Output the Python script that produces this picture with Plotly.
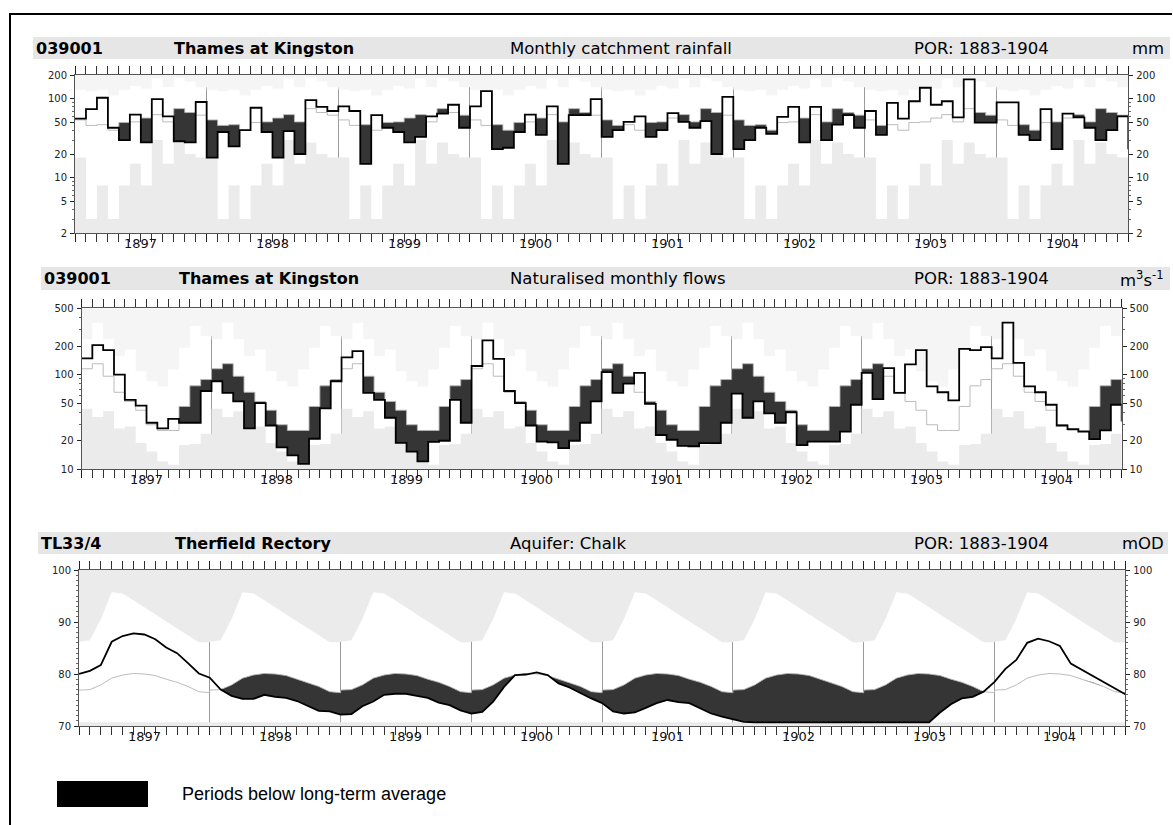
import math
import plotly.graph_objects as go

W, H = 1173, 825
years = [1897, 1898, 1899, 1900, 1901, 1902, 1903, 1904]

# ---------------- Rainfall (mm) ----------------
rain = [56, 74, 103, 43, 30, 63, 28, 99, 60, 29, 28, 91,
        18, 38, 25, 40, 77, 38, 18, 39, 20, 96, 79, 70,
        80, 70, 15, 62, 43, 38, 28, 33, 60, 65, 84, 43,
        80, 125, 23, 24, 38, 63, 35, 80, 15, 62, 62, 99,
        33, 40, 51, 60, 33, 40, 66, 51, 43, 52, 20, 106,
        23, 30, 43, 36, 59, 79, 28, 79, 30, 47, 62, 43,
        70, 35, 89, 56, 93, 138, 84, 93, 58, 176, 50, 50,
        90, 90, 35, 30, 74, 23, 65, 58, 43, 30, 40, 60]
rain_next = 23
rain_avg_month = [54, 46, 47, 40, 50, 51, 57, 63, 51, 75, 67, 62]
rain_max_month = [130, 125, 130, 110, 130, 145, 135, 180, 140, 185, 165, 140]
rain_min_month = [18, 3, 8, 3, 8, 15, 8, 30, 15, 28, 20, 18]
rain_ticks = [2, 5, 10, 20, 50, 100, 200]

# ---------------- Naturalised flows (m3/s) ----------------
flow = [148, 204, 181, 100, 54, 47, 31, 27, 34, 31, 31, 67,
        85, 64, 52, 27, 50, 29, 17, 14, 11.4, 21, 44, 85,
        152, 177, 64, 54, 35, 19, 15.4, 12.1, 19.5, 20, 54, 31,
        123, 229, 146, 67, 50, 29, 19.6, 19.2, 16.7, 20, 31, 52,
        106, 64, 80, 104, 49, 23, 20.5, 17.7, 17.5, 18.9, 18.9, 31,
        63, 35, 52, 39, 31, 40, 18, 19.6, 19.6, 19.6, 25, 48,
        104, 55, 117, 64, 128, 181, 75, 65, 53.5, 187, 181, 195,
        148, 353, 133, 75, 65, 48, 29, 26.6, 25, 20.8, 25.7, 48]
flow_next = 32
flow_avg_month = [115, 130, 96, 65, 52, 42, 29.5, 25.7, 25.7, 46, 76, 88.5]
flow_max_month = [235, 353, 235, 156, 184, 108, 85, 75, 113, 192, 326, 255]
flow_min_month = [43.6, 35.6, 41, 27, 28.3, 19, 15.4, 12.1, 11.2, 18, 18.5, 23.7]
flow_ticks = [10, 20, 50, 100, 200, 500]

# ---------------- Groundwater level (mOD), month-start readings ----------------
gw = [80.0, 80.6, 81.7, 86.2, 87.3, 87.8, 87.6, 86.7, 85.1, 84.0, 82.1, 80.1,
      79.3, 77.0, 75.8, 75.2, 75.2, 76.0, 75.6, 75.4, 74.8, 73.8, 72.9, 72.8,
      72.2, 72.3, 73.8, 74.7, 76.0, 76.2, 76.2, 75.8, 75.4, 74.5, 74.0, 73.0,
      72.4, 72.7, 74.7, 77.5, 79.8, 79.9, 80.3, 79.8, 78.2, 77.4, 76.3, 75.3,
      74.4, 72.8, 72.4, 72.6, 73.5, 74.4, 75.0, 74.6, 74.4, 73.4, 72.4, 71.8,
      71.3, 70.8, 70.7, 70.7, 70.7, 70.7, 70.7, 70.7, 70.7, 70.7, 70.7, 70.7,
      70.7, 70.7, 70.7, 70.7, 70.7, 70.7, 70.7, 72.6, 74.2, 75.3, 75.6, 76.6,
      78.5, 81.0, 82.7, 86.0, 86.8, 86.3, 85.4, 82.0, 80.8, 79.7, 78.4, 77.2,
      76.1]
# long-term stats at month starts (13 points: Jan 1 .. Dec 31)
gw_avg13 = [76.9, 77.0, 77.9, 79.2, 79.8, 80.1, 80.0, 79.7, 79.0, 78.4, 77.6, 76.6, 76.4]
gw_max13 = [86.2, 86.5, 90.6, 95.7, 95.5, 94.2, 92.8, 91.5, 90.1, 88.8, 87.4, 86.1, 86.1]
gw_min13 = [70.7, 70.7, 70.7, 70.7, 70.7, 70.7, 70.7, 70.7, 70.7, 70.7, 70.7, 70.7, 70.7]
gw_ticks = [70, 80, 90, 100]

UPPER = "#f5f5f5"
LOWER = "#ebebeb"
DARK = "#353535"
AVGC = "#b4b4b4"
HDR = "#e6e6e6"
FONT = "DejaVu Sans"

NM = len(years) * 12
xs = list(range(NM + 1))

fig = go.Figure()


def px_x(p):
    return p / W


def px_y(p):
    return 1 - p / H


def step_panel(n, vals, nxt, avg_m, max_m, min_m, ylo, yhi):
    xa, ya = ("x" if n == 1 else f"x{n}"), ("y" if n == 1 else f"y{n}")
    avg = [avg_m[i % 12] for i in range(NM)]
    mx = [max_m[i % 12] for i in range(NM)]
    mn = [min_m[i % 12] for i in range(NM)]
    low = [min(a, b) for a, b in zip(vals, avg)]
    ext = lambda s: s + [s[-1]]
    common = dict(xaxis=xa, yaxis=ya, mode="lines", line_shape="hv",
                  hoverinfo="skip", showlegend=False)
    fig.add_trace(go.Scatter(x=xs, y=[yhi] * (NM + 1), line=dict(width=0), **common))
    fig.add_trace(go.Scatter(x=xs, y=ext(mx), fill="tonexty", fillcolor=UPPER,
                             line=dict(width=0), **common))
    fig.add_trace(go.Scatter(x=xs, y=[ylo] * (NM + 1), line=dict(width=0), **common))
    fig.add_trace(go.Scatter(x=xs, y=ext(mn), fill="tonexty", fillcolor=LOWER,
                             line=dict(width=0), **common))
    fig.add_trace(go.Scatter(x=xs, y=ext(avg), line=dict(width=0), **common))
    fig.add_trace(go.Scatter(x=xs, y=ext(low), fill="tonexty", fillcolor=DARK,
                             line=dict(width=0), **common))
    fig.add_trace(go.Scatter(x=xs, y=ext(avg), line=dict(width=0.9, color=AVGC), **common))
    fig.add_trace(go.Scatter(x=xs, y=vals + [nxt], line=dict(width=1.8, color="black"), **common))


def gw_panel(n):
    xa, ya = f"x{n}", f"y{n}"
    gx, gavg, gmax = [], [], []
    for k in range(len(years)):
        for j in range(13):
            gx.append(12 * k + j)
            gavg.append(gw_avg13[j])
            gmax.append(gw_max13[j])
    ga = [gw[x] for x in gx]
    fx, fa, fm = [gx[0]], [gavg[0]], [min(ga[0], gavg[0])]
    for i in range(1, len(gx)):
        x0, x1 = gx[i - 1], gx[i]
        d0, d1 = ga[i - 1] - gavg[i - 1], ga[i] - gavg[i]
        if x1 > x0 and d0 * d1 < 0:
            t = d0 / (d0 - d1)
            yc = gavg[i - 1] + t * (gavg[i] - gavg[i - 1])
            fx.append(x0 + t * (x1 - x0)); fa.append(yc); fm.append(yc)
        fx.append(x1); fa.append(gavg[i]); fm.append(min(ga[i], gavg[i]))
    common = dict(xaxis=xa, yaxis=ya, mode="lines", hoverinfo="skip", showlegend=False)
    lo, hi = gw_ticks[0], gw_ticks[-1]
    fig.add_trace(go.Scatter(x=[0, NM], y=[hi, hi], line=dict(width=0), **common))
    fig.add_trace(go.Scatter(x=gx, y=gmax, fill="tonexty", fillcolor=LOWER,
                             line=dict(width=0), **common))
    fig.add_trace(go.Scatter(x=[0, NM], y=[lo, lo], line=dict(width=0), **common))
    fig.add_trace(go.Scatter(x=gx, y=[gw_min13[x % 12] for x in gx], fill="tonexty",
                             fillcolor=LOWER, line=dict(width=0), **common))
    fig.add_trace(go.Scatter(x=fx, y=fa, line=dict(width=0), **common))
    fig.add_trace(go.Scatter(x=fx, y=fm, fill="tonexty", fillcolor=DARK,
                             line=dict(width=0), **common))
    fig.add_trace(go.Scatter(x=gx, y=gavg, line=dict(width=0.9, color=AVGC), **common))
    fig.add_trace(go.Scatter(x=xs, y=gw, line=dict(width=1.8, color="black"), **common))


step_panel(1, rain, rain_next, rain_avg_month, rain_max_month, rain_min_month,
           rain_ticks[0], rain_ticks[-1])
step_panel(2, flow, flow_next, flow_avg_month, flow_max_month, flow_min_month,
           flow_ticks[0], flow_ticks[-1])
gw_panel(3)

# dummy traces for right-hand axes
for n, xa, yv in [(4, "x", rain_ticks[0]), (5, "x2", flow_ticks[0]), (6, "x3", gw_ticks[0])]:
    fig.add_trace(go.Scatter(x=[0], y=[yv], xaxis=xa, yaxis=f"y{n}", mode="markers",
                             marker=dict(opacity=0), hoverinfo="skip", showlegend=False))

# panel geometry in pixels: (x0, x1, ytop, ybottom)
geo = {1: (75, 1128.3, 75, 233), 2: (81.5, 1121.7, 308.3, 469.3), 3: (79, 1125.3, 570, 726)}

tickfont = dict(family=FONT, size=10, color="#222")
year_bounds = [12 * k for k in range(len(years) + 1)]


def xaxis_cfg(n):
    x0, x1, yt, yb = geo[n]
    return dict(domain=[px_x(x0), px_x(x1)], range=[0, NM], anchor=("y" if n == 1 else f"y{n}"),
                tickmode="array", tickvals=year_bounds, showticklabels=False,
                ticks="outside", ticklen=8, tickwidth=1, tickcolor="#222",
                showgrid=True, gridcolor="#9a9a9a", gridwidth=0.8,
                minor=dict(tickmode="linear", tick0=0, dtick=1, ticks="outside", ticklen=4,
                           tickwidth=1, tickcolor="#333", showgrid=False),
                showline=True, linecolor="#555", linewidth=0.8, mirror="allticks",
                zeroline=False, fixedrange=True, automargin=False)


def yaxis_cfg(n, ticks, log, side="left", overlay=None):
    x0, x1, yt, yb = geo[n]
    d = dict(domain=[px_y(yb), px_y(yt)], tickmode="array", tickvals=ticks,
             ticktext=[str(t) for t in ticks], tickfont=tickfont,
             ticks="outside", ticklen=4, tickwidth=1, tickcolor="#222",
             showgrid=False, zeroline=False, showline=True, linecolor="#555",
             linewidth=0.8, side=side, fixedrange=True, ticklabelstandoff=1,
             automargin=False)
    if log:
        d.update(type="log", range=[math.log10(ticks[0]), math.log10(ticks[-1])],
                 minor=dict(dtick="D1", ticks="outside", ticklen=2, tickwidth=0.8,
                            tickcolor="#666"))
    else:
        d.update(range=[ticks[0], ticks[-1]],
                 minor=dict(tickmode="linear", tick0=ticks[0], dtick=1, ticks="outside",
                            ticklen=2, tickwidth=0.8, tickcolor="#666"))
    if overlay:
        d.update(overlaying=overlay)
    d.update(anchor=("x" if n == 1 else f"x{n}"))
    return d


layout = dict(width=W, height=H, margin=dict(l=0, r=0, t=0, b=0, pad=0, autoexpand=False),
              paper_bgcolor="white", plot_bgcolor="white", showlegend=False,
              template="none")
layout["xaxis"] = xaxis_cfg(1)
layout["xaxis2"] = xaxis_cfg(2)
layout["xaxis3"] = xaxis_cfg(3)
layout["yaxis"] = yaxis_cfg(1, rain_ticks, True)
layout["yaxis2"] = yaxis_cfg(2, flow_ticks, True)
layout["yaxis3"] = yaxis_cfg(3, gw_ticks, False)
layout["yaxis4"] = yaxis_cfg(1, rain_ticks, True, side="right", overlay="y")
layout["yaxis5"] = yaxis_cfg(2, flow_ticks, True, side="right", overlay="y2")
layout["yaxis6"] = yaxis_cfg(3, gw_ticks, False, side="right", overlay="y3")
fig.update_layout(**layout)

shapes = []
annots = []

# outer frame (top and left edges)
shapes.append(dict(type="line", xref="paper", yref="paper", x0=px_x(9), x1=px_x(1172),
                   y0=px_y(14), y1=px_y(14), line=dict(color="black", width=2)))
shapes.append(dict(type="line", xref="paper", yref="paper", x0=px_x(10), x1=px_x(10),
                   y0=px_y(13), y1=0, line=dict(color="black", width=2)))

headers = [
    # (x0, x1, y0, y1, id, name, desc, por, unit)
    (33, 1170, 37, 59, "039001", "Thames at Kingston", "Monthly catchment rainfall",
     "POR: 1883-1904", "mm"),
    (41, 1170, 267, 290, "039001", "Thames at Kingston", "Naturalised monthly flows",
     "POR: 1883-1904", "m<sup>3</sup>s<sup>-1</sup>"),
    (38, 1168, 532, 554, "TL33/4", "Therfield Rectory", "Aquifer: Chalk",
     "POR: 1883-1904", "mOD"),
]
name_x = [172, 177, 173]
for (hx0, hx1, hy0, hy1, sid, name, desc, por, unit), nx in zip(headers, name_x):
    shapes.append(dict(type="rect", xref="paper", yref="paper", x0=px_x(hx0), x1=px_x(hx1),
                       y0=px_y(hy1), y1=px_y(hy0), fillcolor=HDR, line=dict(width=0),
                       layer="below"))
    yc = px_y((hy0 + hy1) / 2)
    hf_b = dict(family=FONT, size=16, color="black", weight="bold")
    hf = dict(family=FONT, size=16.5, color="black")
    for txt, xx, fnt, anc in [(sid, hx0 + 1, hf_b, "left"), (name, nx, hf_b, "left"),
                              (desc, 508, hf, "left"), (por, 912, hf, "left"),
                              (unit, 1166, hf, "right")]:
        annots.append(dict(text=txt, x=px_x(xx), y=yc, xref="paper", yref="paper",
                           xanchor=anc, yanchor="middle", showarrow=False, font=fnt))

# year labels below each panel
for n in (1, 2, 3):
    xa = "x" if n == 1 else f"x{n}"
    ya = "y" if n == 1 else f"y{n}"
    for k, yr in enumerate(years):
        annots.append(dict(text=str(yr), x=12 * k + 6, y=0, xref=xa, yref=f"{ya} domain",
                           xanchor="center", yanchor="top", yshift=-1, showarrow=False,
                           font=dict(family=FONT, size=13, color="#111")))

# legend
shapes.append(dict(type="rect", xref="paper", yref="paper", x0=px_x(57), x1=px_x(148),
                   y0=px_y(807), y1=px_y(781), fillcolor="black", line=dict(width=0)))
annots.append(dict(text="Periods below long-term average", x=px_x(180), y=px_y(794),
                   xref="paper", yref="paper", xanchor="left", yanchor="middle",
                   showarrow=False, font=dict(family="Liberation Sans", size=18, color="black")))

fig.update_layout(shapes=shapes, annotations=annots)

post = ("document.documentElement.style.margin='0';document.documentElement.style.padding='0';"
        "document.body.style.margin='0';document.body.style.padding='0';"
        "document.documentElement.style.overflow='hidden';document.body.style.overflow='hidden';"
        "var gd=document.getElementById('{plot_id}');gd.style.position='fixed';"
        "gd.style.top='0px';gd.style.left='0px';")
fig.write_html("out.html", post_script=post, config={"displayModeBar": False})
